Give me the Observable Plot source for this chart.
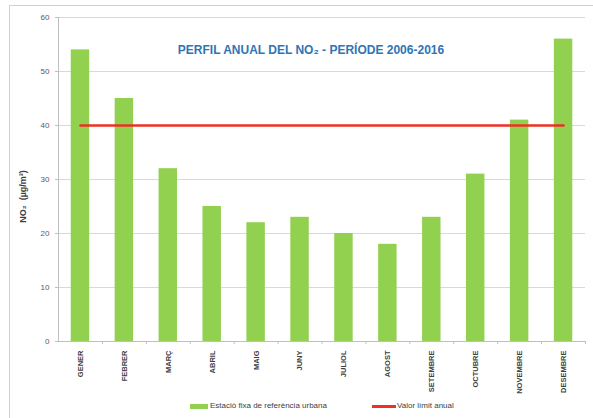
<!DOCTYPE html>
<html><head><meta charset="utf-8">
<script src="https://cdn.jsdelivr.net/npm/d3@7"></script>
<script src="https://cdn.jsdelivr.net/npm/@observablehq/plot@0.6"></script>
<style>
body{margin:0;background:#fff;font-family:"Liberation Sans",Arial,sans-serif;}
#wrap{position:relative;width:593px;height:418px;overflow:hidden;}
#frame{position:absolute;left:9px;top:5px;width:600px;height:420px;border:1px solid #d0d0d0;box-sizing:border-box;}
#chart{position:absolute;left:0;top:0;}
#legend{position:absolute;left:0;top:401px;width:593px;font-size:8px;color:#404040;}
.sw{position:absolute;}
.lt{position:absolute;top:0;white-space:nowrap;}
</style>
</head><body>
<div id="wrap"><div id="frame"></div><div id="chart"></div>
<div id="legend">
<div class="sw" style="left:190px;top:3px;width:18px;height:5px;background:#92D050"></div>
<div class="lt" style="left:210px;">Estació fixa de referència urbana</div>
<div class="sw" style="left:372px;top:4px;width:24px;height:3px;background:#ee3124"></div>
<div class="lt" style="left:397px;">Valor límit anual</div>
</div>
</div>
<script>
const months = ["GENER","FEBRER","MARÇ","ABRIL","MAIG","JUNY","JULIOL","AGOST","SETEMBRE","OCTUBRE","NOVEMBRE","DESEMBRE"];
const no2 = [54,45,32,25,22,23,20,18,23,31,41,56];
const limitValue = 40;
const yTicks = [0,10,20,30,40,50,60];
const title = "PERFIL ANUAL DEL NO₂ - PERÍODE 2006-2016";
const yLabel = "NO₂  (µg/m³)";

const data = months.map((m,i)=>({month:m, value:no2[i]}));
const limit = months.map(m=>({month:m, value:limitValue}));

const W=593, H=396, mL=58, mR=8, mT=17, mB=55;
const step = (W-mL-mR)/months.length;

const chart = Plot.plot({
  width:W, height:H,
  marginLeft:mL, marginRight:mR, marginTop:mT, marginBottom:mB,
  style:{fontFamily:'"Liberation Sans",Arial,sans-serif', background:"transparent"},
  x:{domain:months, paddingInner:0.58, paddingOuter:0.29, round:false, label:null},
  y:{domain:[0,60], ticks:yTicks, label:null},
  marks:[
    Plot.gridY(yTicks.filter(t=>t>0), {stroke:"#d9d9d9", strokeOpacity:1, strokeWidth:1}),
    Plot.axisY({ticks:yTicks, tickSize:3, tickPadding:6, fontSize:8, fill:"#595959", stroke:"#bfbfbf", label:null}),
    Plot.ruleX([0], {x:()=>months[0], dx:-step/2, y1:0, y2:60, stroke:"#bfbfbf"}),
    Plot.barY(data, {x:"month", y:"value", fill:"#92D050"}),
    Plot.ruleY([0], {stroke:"#bfbfbf"}),
    Plot.ruleX(months, {x:d=>d, dx:step/2, y1:0, y2:-0.55, stroke:"#bfbfbf"}),
    Plot.lineY(limit, {x:"month", y:"value", stroke:"#ee3124", strokeWidth:2.5}),
    Plot.axisX({tickRotate:-90, tickSize:0, tickPadding:9, fontSize:7.5, fontWeight:"bold", fill:"#404040", label:null}),
    Plot.text([title], {text:d=>d, frameAnchor:"top", dx:-11, dy:28, fontSize:12, fontWeight:"bold", fill:"#2E75B6"}),
    Plot.text([yLabel], {text:d=>d, frameAnchor:"left", textAnchor:"middle", dx:-35, dy:17, rotate:-90, fontSize:9, fontWeight:"bold", fill:"#404040"})
  ]
});
document.getElementById("chart").appendChild(chart);
</script>
</body></html>
